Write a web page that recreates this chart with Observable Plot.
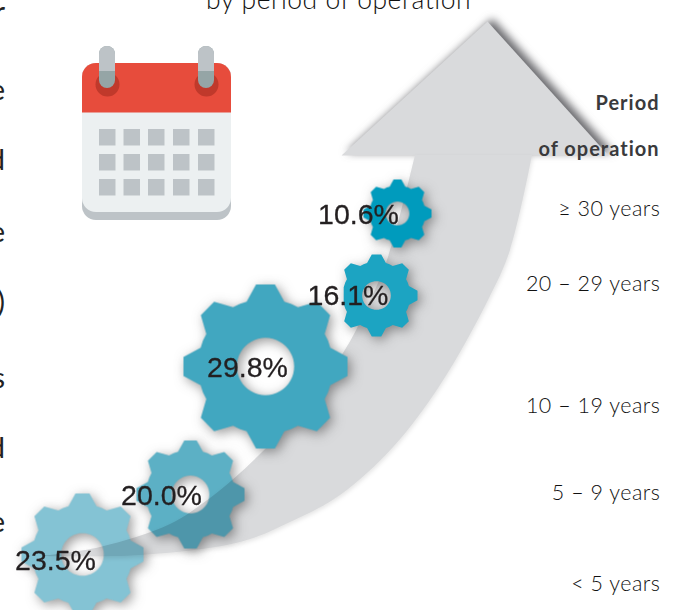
<!DOCTYPE html>
<html><head><meta charset="utf-8">
<script src="https://cdn.jsdelivr.net/npm/d3@7"></script>
<script src="https://cdn.jsdelivr.net/npm/@observablehq/plot@0.6"></script>
<style>
html,body{margin:0;padding:0;background:#fff;overflow:hidden}
svg{display:block}
.lab text{letter-spacing:.5px}
.head text{letter-spacing:1px}
.gear{mix-blend-mode:multiply}
.solid{mix-blend-mode:normal}
</style></head><body><div id="c"></div>
<script>
// chart values
const periods = ["≥ 30 years","20 – 29 years","10 – 19 years","5 – 9 years","< 5 years"];
const shares = [10.6,16.1,29.8,20.0,23.5];
const gearColors = ["#009bbd","#1ca4c2","#41a7c0","#5cb0c5","#84c3d4"];
// picture layout (axis units are the picture's own)
const gearX = [397,376,265,190,82];
const gearY = [213,295,366,494,554];
const gearR = [34,41,82,54,61];
const labelX = [358,347.5,247,161,55];
const labelY = [214,295,367,495,560];
const rowY = [209,284,406,493,584];
const headers = ["Period","of operation"];
const headerY = [103,149];
const headX = [341,487,608,341];
const headY = [155,21,155,155];
const innerX = [40,100,170,210,240,283,343,367,388,415];
const innerY = [556,547,524,498,473,430,353,307,257,155];
const outerX = [40,140,240,290,340,393,440,488,510,532];
const outerY = [556,555,542,522,495,447,385,300,250,155];
const clipped = ["r","e","d","e",")","s","d","e"];
const clippedY = [12,90,160,232,302,378,448,522];
const squareX = [99,123.5,148,173,198];
const squareY = [129,154,179];

const gearSymbol = skip => ({draw(c, size){
  const R = Math.sqrt(size/Math.PI);
  const n = 8, step = 2*Math.PI/n;
  const pt = (r,a)=>[r*Math.sin(a), -r*Math.cos(a)];
  const at = (u,v,a)=>[R*(u*Math.sin(a)+v*Math.cos(a)), -R*(u*Math.cos(a)-v*Math.sin(a))];
  let first = true;
  for(let i=0;i<n;i++){
    const a=i*step;
    const ps = i===skip ? [at(.8,-.2,a),at(.8,.2,a)] : [at(.79,-.23,a),at(1,-.115,a),at(1,.115,a),at(.79,.23,a)];
    ps.forEach(p=>{ if(first){c.moveTo(p[0],p[1]);first=false;} else c.lineTo(p[0],p[1]); });
    const m=pt(R*.825,a+step/2); // valley bulge
    c.lineTo(m[0],m[1]);
  }
  c.closePath();
  const h=R*.35;
  c.moveTo(h,0);
  for(let k=1;k<=48;k++){const t=-k/48*2*Math.PI;c.lineTo(h*Math.cos(t),h*Math.sin(t));}
  c.closePath();
}});

const squares = squareY.flatMap(y=>squareX.map(x=>({x,y})));
const body = innerX.map((_,i)=>({x1:innerX[i],y1:innerY[i],x2:outerX[i],y2:outerY[i]}));
const head = headX.map((x,i)=>({x,y:headY[i]}));
const idx = d3.range(periods.length);
const sans = "Lato, 'Noto Sans', sans-serif";
const gearMark = (ids, symbol, className) => Plot.dot(ids,{x:i=>gearX[i],y:i=>gearY[i],r:i=>gearR[i],symbol,fill:i=>gearColors[i],stroke:"none",className,imageFilter:"drop-shadow(3px 3px 6px rgba(50,50,50,.5))"});

const chart = Plot.plot({
  width:673,height:610,margin:0,
  x:{domain:[0,673],range:[0,673],axis:null},
  y:{domain:[0,610],range:[0,610],axis:null},
  r:{type:"identity"},
  style:{background:"#fff",overflow:"hidden"},
  marks:[
    Plot.line(head,{x:"x",y:"y",fill:"#d9dadc",stroke:"none",imageFilter:"drop-shadow(5px -3px 4px rgba(70,70,75,.8))"}),
    Plot.area(body,{x1:"x1",y1:"y1",x2:"x2",y2:"y2",curve:"catmull-rom",fill:"#d9dadc",imageFilter:"drop-shadow(1px 2px 2px rgba(0,0,0,.1))"}),
    gearMark([0,2], gearSymbol(-1), "solid"),
    gearMark([3,4], gearSymbol(-1), "gear"),
    gearMark([1], gearSymbol(6), "solid"),
    // calendar
    Plot.rect([0],{x1:82,x2:231,y1:63,y2:220,fill:"#bdc3c7",rx:14}),
    Plot.rect([0],{x1:82,x2:231,y1:63,y2:212,fill:"#ecf0f1",rx:14}),
    Plot.rect([0],{x1:82,x2:231,y1:63,y2:130,fill:"#e74c3c",rx:14}),
    Plot.rect([0],{x1:82,x2:231,y1:112.5,y2:150,fill:"#ecf0f1"}),
    Plot.dot([107,206],{x:d=>d,y:84,r:12,fill:"#c0392b"}),
    Plot.rect([107,206],{x1:d=>d-8,x2:d=>d+8,y1:46,y2:88,fill:"#95a5a6",rx:8}),
    Plot.rect([107,206],{x1:d=>d-8,x2:d=>d+8,y1:46,y2:71,fill:"#bdc3c7",rx:8}),
    Plot.rect([107,206],{x1:d=>d-8,x2:d=>d+8,y1:60,y2:71,fill:"#bdc3c7"}),
    Plot.rect(squares,{x1:d=>d.x,x2:d=>d.x+16.5,y1:d=>d.y,y2:d=>d.y+16.5,fill:"#bdc3c7"}),
    // texts
    Plot.text(["by period of operation"],{x:338,y:0,text:d=>d,fontSize:26.5,fontWeight:300,fontFamily:sans,fill:"#111",className:"lab"}),
    Plot.text(clipped,{x:4.5,y:(d,i)=>clippedY[i],text:d=>d,textAnchor:"end",fontSize:29,fontWeight:400,fontFamily:sans,fill:"#222"}),
    Plot.text(headers,{x:659,y:(d,i)=>headerY[i],text:d=>d,textAnchor:"end",fontSize:20,fontWeight:700,fontFamily:sans,fill:"#3a3a3c",className:"head"}),
    Plot.text(periods,{x:660,y:(d,i)=>rowY[i],text:d=>d,textAnchor:"end",fontSize:21.5,fontWeight:300,fontFamily:sans,fill:"#111",className:"lab"}),
    Plot.text(idx,{x:i=>labelX[i],y:i=>labelY[i],text:i=>shares[i].toFixed(1)+"%",fontSize:28.5,fontFamily:"'Liberation Sans',Arial,sans-serif",fill:"#231f20",stroke:"#231f20",strokeWidth:.3})
  ]
});
document.getElementById("c").append(chart);
</script></body></html>
